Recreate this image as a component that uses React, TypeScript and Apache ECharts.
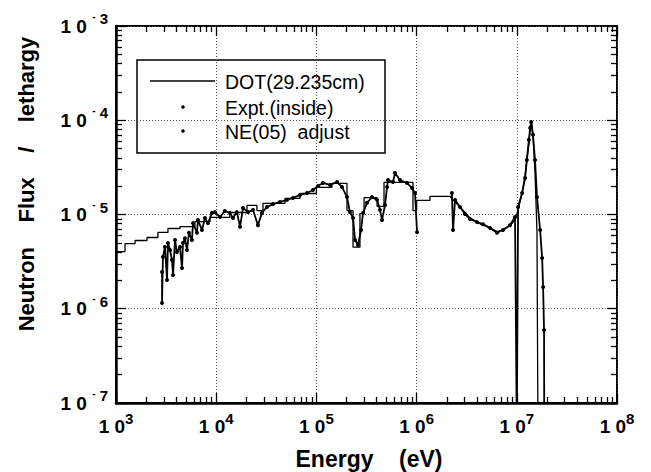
import React, { useEffect, useRef } from "react";
import * as echarts from "echarts";

// ---- axis ranges / tick values ----
const X_MIN = 1e3;
const X_MAX = 1e8;
const Y_MIN = 1e-7;
const Y_MAX = 1e-3;
const xMajorTicks = [1e3, 1e4, 1e5, 1e6, 1e7, 1e8];
const yMajorTicks = [1e-7, 1e-6, 1e-5, 1e-4, 1e-3];
const xDecadeStarts = [1e3, 1e4, 1e5, 1e6, 1e7];
const yDecadeStarts = [1e-7, 1e-6, 1e-5, 1e-4];
const minorMultipliers = [2, 3, 4, 5, 6, 7, 8, 9];

// ---- DOT(29.235cm): group-wise (step) part ----
const dotEdges = [
  1e3, 1.23e3, 1.55e3, 2.04e3, 2.62e3, 3.3e3, 4.35e3, 6.14e3, 8.67e3, 1.37e4,
  2.03e4, 2.55e4, 2.93e4, 4.86e4, 6.86e4, 1.0e5, 1.43e5, 2.02e5, 2.32e5, 2.72e5,
  2.99e5, 4.03e5, 4.73e5, 9.2e5, 1.0e6, 1.36e6, 2.15e6,
];
const dotLevels = [
  4.04e-6, 4.9e-6, 5.3e-6, 5.7e-6, 6.45e-6, 7.1e-6, 7.45e-6, 8.4e-6, 9.3e-6, 1.05e-5,
  1.25e-5, 1.1e-5, 1.31e-5, 1.48e-5, 1.67e-5, 1.94e-5, 2.14e-5, 1.1e-5, 4.5e-6, 1.02e-5,
  1.51e-5, 1.22e-5, 2.19e-5, 1.1e-5, 1.41e-5, 1.56e-5,
];
// ---- DOT: fine-group part above 2 MeV ----
const dotFineE = [
  2.31e6, 2.71e6, 3.41e6, 4.37e6, 5.41e6, 6.34e6, 7.28e6, 8.55e6, 9.6e6, 1.03e7,
  1.13e7, 1.21e7, 1.26e7, 1.32e7, 1.36e7, 1.4e7, 1.45e7, 1.52e7, 1.59e7, 1.63e7,
];
const dotFineF = [
  1.43e-5, 1.2e-5, 9.2e-6, 7.9e-6, 7.2e-6, 6.6e-6, 6.85e-6, 7.6e-6, 8.8e-6, 1.12e-5,
  1.69e-5, 2.6e-5, 3.8e-5, 5.6e-5, 8.0e-5, 9.8e-5, 7.0e-5, 2.8e-5, 6.5e-6, 3e-8,
];

// ---- Expt.(inside) ----
const exptE = [
  2.88e3, 2.88e3, 2.94e3, 3.08e3, 3.23e3, 3.3e3, 3.46e3, 3.62e3, 3.71e3, 3.88e3,
  4.06e3, 4.35e3, 4.56e3, 4.66e3, 4.88e3, 5.11e3, 5.35e3, 5.73e3, 5.87e3, 6.43e3,
  6.58e3, 7.21e3, 7.73e3, 8.28e3, 9.08e3, 9.73e3, 1.09e4, 1.22e4, 1.37e4, 1.47e4,
  1.61e4, 1.73e4, 1.85e4, 2.08e4, 2.33e4, 2.61e4, 2.86e4, 3.21e4, 3.69e4, 4.33e4,
  5.09e4, 5.84e4, 6.86e4, 8.05e4, 9.25e4, 1.04e5, 1.16e5, 1.37e5, 1.61e5, 1.8e5,
  2.02e5, 2.16e5, 2.32e5, 2.43e5, 2.6e5, 2.79e5, 2.92e5, 3.2e5, 3.59e5, 4.03e5,
  4.31e5, 4.52e5, 4.84e5, 5.07e5, 5.18e5, 5.81e5, 6.09e5, 6.83e5, 8.02e5, 9.0e5,
  9.64e5, 1.01e6,
];
const exptF = [
  2.45e-6, 1.15e-6, 3.54e-6, 4.52e-6, 2.02e-6, 4.99e-6, 4.2e-6, 3.29e-6, 2.28e-6, 5.36e-6,
  4.0e-6, 4.52e-6, 2.7e-6, 4.99e-6, 5.6e-6, 4.2e-6, 6.4e-6, 5.36e-6, 8.1e-6, 6.4e-6,
  8.75e-6, 6.85e-6, 9.2e-6, 8.1e-6, 1.04e-5, 1.06e-5, 9.4e-6, 1.09e-5, 1.04e-5, 9.2e-6,
  1.06e-5, 7.4e-6, 1.17e-5, 1.06e-5, 1.12e-5, 7.7e-6, 1.04e-5, 1.2e-5, 1.29e-5, 1.36e-5,
  1.43e-5, 1.5e-5, 1.61e-5, 1.69e-5, 1.82e-5, 2.01e-5, 2.16e-5, 2.06e-5, 2.21e-5, 1.96e-5,
  1.53e-5, 1.06e-5, 9.2e-6, 5.36e-6, 4.74e-6, 6.85e-6, 1.04e-5, 1.33e-5, 1.53e-5, 1.43e-5,
  1.12e-5, 8.75e-6, 1.26e-5, 1.96e-5, 2.32e-5, 2.21e-5, 2.75e-5, 2.32e-5, 2.16e-5, 1.91e-5,
  1.69e-5, 6.5e-6,
];

// ---- NE(05) adjust ----
const neE = [
  2.25e6, 2.31e6, 2.42e6, 2.71e6, 3.04e6, 3.41e6, 4.01e6, 4.6e6, 5.41e6, 6.34e6,
  7.28e6, 8.55e6, 9.6e6, 1.0e7, 1.03e7, 1.13e7, 1.21e7, 1.26e7, 1.32e7, 1.36e7,
  1.39e7, 1.45e7, 1.52e7, 1.59e7, 1.71e7, 1.79e7, 1.83e7, 1.87e7, 1.88e7,
];
const neF = [
  1.69e-5, 6.85e-6, 1.43e-5, 1.2e-5, 1.01e-5, 8.96e-6, 8.3e-6, 7.9e-6, 7.2e-6, 6.4e-6,
  6.85e-6, 7.7e-6, 9.4e-6, 5e-8, 1.2e-5, 1.69e-5, 2.44e-5, 3.79e-5, 6.2e-5, 8.3e-5,
  9.6e-5, 7.0e-5, 3.79e-5, 1.53e-5, 6.85e-6, 3.45e-6, 1.7e-6, 5.96e-7, 5e-8,
];

const FONT = "'Liberation Sans', Arial, sans-serif";
const MAJOR_LEN = 10;
const MINOR_LEN = 6;

export default function App() {
  const ref = useRef<HTMLDivElement>(null);

  useEffect(() => {
    if (!ref.current) return;
    const chart = echarts.init(ref.current, undefined, { renderer: "svg" });

    const dotData: number[][] = [];
    for (let i = 0; i < dotLevels.length; i++) {
      dotData.push([dotEdges[i], dotLevels[i]]);
      dotData.push([dotEdges[i + 1], dotLevels[i]]);
    }
    for (let i = 0; i < dotFineE.length; i++) dotData.push([dotFineE[i], dotFineF[i]]);

    const exptData = exptE.map((e, i) => [e, exptF[i]]);
    const neData = neE.map((e, i) => [e, neF[i]]);

    const xMinorTicks: number[] = [];
    xDecadeStarts.forEach((d) => minorMultipliers.forEach((m) => xMinorTicks.push(m * d)));
    const yMinorTicks: number[] = [];
    yDecadeStarts.forEach((d) => minorMultipliers.forEach((m) => yMinorTicks.push(m * d)));

    const rich = {
      b: { fontSize: 19, fontWeight: "bold", fontFamily: FONT, color: "#000", lineHeight: 30 },
      m: { fontSize: 10, fontWeight: "bold", fontFamily: FONT, color: "#000", verticalAlign: "top", lineHeight: 16 },
      s: { fontSize: 15, fontWeight: "bold", fontFamily: FONT, color: "#000", verticalAlign: "top", lineHeight: 14 },
    };

    // extra axes on the same grid that only draw inward ticks (through the axis' own scale)
    const tickAxis = (
      min: number,
      max: number,
      position: string,
      values: number[],
      length: number
    ) => ({
      type: "log",
      logBase: 10,
      gridIndex: 0,
      position,
      min,
      max,
      axisLine: { show: false, onZero: false },
      axisLabel: { show: false },
      splitLine: { show: false },
      minorTick: { show: false },
      axisTick: {
        show: true,
        inside: true,
        length,
        customValues: values,
        lineStyle: { color: "#000", width: 1.3 },
      },
    });

    chart.setOption({
      animation: false,
      backgroundColor: "#fff",
      grid: {
        left: 116,
        top: 26,
        width: 501,
        height: 377,
        show: true,
        borderColor: "#000",
        borderWidth: 2,
        backgroundColor: "transparent",
      },
      xAxis: [
        {
          type: "log",
          logBase: 10,
          position: "bottom",
          min: X_MIN,
          max: X_MAX,
          interval: 1,
          axisLine: { show: true, onZero: false, lineStyle: { color: "#000", width: 2.5 } },
          axisTick: { show: false },
          minorTick: { show: false },
          splitLine: { show: true, lineStyle: { color: "#555", width: 1, type: [1, 2] } },
          axisLabel: {
            margin: 8,
            formatter: (v: number) => `{b|1 0}{s|${Math.round(Math.log10(v))}}`,
            rich,
          },
        },
        tickAxis(X_MIN, X_MAX, "bottom", xMinorTicks, MINOR_LEN),
        tickAxis(X_MIN, X_MAX, "bottom", xMajorTicks, MAJOR_LEN),
        tickAxis(X_MIN, X_MAX, "top", xMinorTicks, MINOR_LEN),
        tickAxis(X_MIN, X_MAX, "top", xMajorTicks, MAJOR_LEN),
      ],
      yAxis: [
        {
          type: "log",
          logBase: 10,
          position: "left",
          min: Y_MIN,
          max: Y_MAX,
          interval: 1,
          axisLine: { show: true, onZero: false, lineStyle: { color: "#000", width: 2.5 } },
          axisTick: { show: false },
          minorTick: { show: false },
          splitLine: { show: true, lineStyle: { color: "#555", width: 1, type: [1, 2] } },
          axisLabel: {
            margin: 8,
            formatter: (v: number) => `{b|1 0 }{m|-}{s| ${-Math.round(Math.log10(v))}}`,
            rich,
          },
        },
        tickAxis(Y_MIN, Y_MAX, "left", yMinorTicks, MINOR_LEN),
        tickAxis(Y_MIN, Y_MAX, "left", yMajorTicks, MAJOR_LEN),
        tickAxis(Y_MIN, Y_MAX, "right", yMinorTicks, MINOR_LEN),
        tickAxis(Y_MIN, Y_MAX, "right", yMajorTicks, MAJOR_LEN),
      ],
      series: [
        {
          name: "DOT(29.235cm)",
          type: "line",
          xAxisIndex: 0,
          yAxisIndex: 0,
          data: dotData,
          symbol: "none",
          lineStyle: { color: "#000", width: 1.3 },
          clip: true,
          z: 3,
        },
        {
          name: "Expt.(inside)",
          type: "line",
          xAxisIndex: 0,
          yAxisIndex: 0,
          data: exptData,
          symbol: "circle",
          symbolSize: 4,
          showAllSymbol: true,
          itemStyle: { color: "#000" },
          lineStyle: { color: "#000", width: 1.8 },
          clip: true,
          z: 4,
        },
        {
          name: "NE(05) adjust",
          type: "line",
          xAxisIndex: 0,
          yAxisIndex: 0,
          data: neData,
          symbol: "circle",
          symbolSize: 4,
          showAllSymbol: true,
          itemStyle: { color: "#000" },
          lineStyle: { color: "#000", width: 1.8 },
          clip: true,
          z: 4,
        },
      ],
      graphic: [
        {
          type: "group",
          z: 100,
          children: [
            {
              type: "rect",
              shape: { x: 137, y: 60, width: 248, height: 93 },
              style: { fill: "#fff", stroke: "#000", lineWidth: 1.5 },
            },
            {
              type: "line",
              shape: { x1: 150, y1: 81, x2: 215, y2: 81 },
              style: { stroke: "#000", lineWidth: 1.3 },
            },
            { type: "circle", shape: { cx: 183, cy: 107, r: 1.8 }, style: { fill: "#000" } },
            { type: "circle", shape: { cx: 183, cy: 131, r: 1.8 }, style: { fill: "#000" } },
            {
              type: "text",
              x: 225,
              y: 82,
              style: { text: "DOT(29.235cm)", fontSize: 19.5, fontFamily: FONT, fill: "#000", verticalAlign: "middle" },
            },
            {
              type: "text",
              x: 225,
              y: 108,
              style: { text: "Expt.(inside)", fontSize: 19.5, fontFamily: FONT, fill: "#000", verticalAlign: "middle" },
            },
            {
              type: "text",
              x: 225,
              y: 132,
              style: { text: "NE(05)  adjust", fontSize: 19.5, fontFamily: FONT, fill: "#000", verticalAlign: "middle" },
            },
          ],
        },
        {
          type: "text",
          x: 26,
          y: 184,
          rotation: Math.PI / 2,
          style: {
            text: "Neutron    Flux    /    lethargy",
            fontSize: 22,
            fontWeight: "bold",
            fontFamily: FONT,
            fill: "#000",
            align: "center",
            verticalAlign: "middle",
          },
        },
        {
          type: "text",
          x: 369,
          y: 459,
          style: {
            text: "Energy    (eV)",
            fontSize: 23,
            fontWeight: "bold",
            fontFamily: FONT,
            fill: "#000",
            align: "center",
            verticalAlign: "middle",
          },
        },
      ],
    });

    return () => chart.dispose();
  }, []);

  return (
    <div
      ref={ref}
      style={{ position: "absolute", left: 0, top: 0, width: 651, height: 472 }}
    />
  );
}
